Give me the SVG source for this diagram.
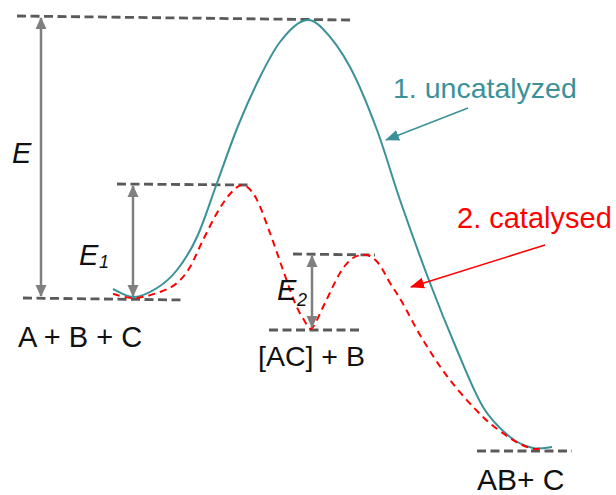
<svg xmlns="http://www.w3.org/2000/svg" width="616" height="495" viewBox="0 0 616 495">
<style>
.lvl{stroke:#5a5a5a;stroke-width:2.8;stroke-dasharray:9 4.5;fill:none}
.dim{stroke:#808080;stroke-width:2.5;fill:none;marker-start:url(#gh);marker-end:url(#gh)}
.lbl{font-family:"Liberation Sans",Arial,sans-serif;font-size:29px;fill:#111}
.sym{font-family:"Liberation Sans",Arial,sans-serif;font-style:italic;fill:#111}
.teal{stroke:#3a9198;stroke-width:2;fill:none}
.red{stroke:#ff0000;stroke-width:2;stroke-dasharray:7 5;fill:none}
</style>
<defs>
<marker id="gh" viewBox="0 0 12 12" refX="11" refY="6" markerWidth="12" markerHeight="12" markerUnits="userSpaceOnUse" orient="auto-start-reverse"><path d="M0,0.5 L12,6 L0,11.5 Z" fill="#808080"/></marker>
<marker id="th" viewBox="0 0 14 12" refX="13" refY="6" markerWidth="14" markerHeight="12" markerUnits="userSpaceOnUse" orient="auto"><path d="M0,0.5 L14,6 L0,11.5 Z" fill="#3a9198"/></marker>
<marker id="rh" viewBox="0 0 14 12" refX="13" refY="6" markerWidth="14" markerHeight="12" markerUnits="userSpaceOnUse" orient="auto"><path d="M0,0.5 L14,6 L0,11.5 Z" fill="#ff0000"/></marker>
</defs>
<g id="levels">
<line class="lvl" x1="17" y1="16" x2="350" y2="20"/>
<line class="lvl" x1="23" y1="298" x2="183" y2="300"/>
<line class="lvl" x1="117" y1="184" x2="248" y2="185"/>
<line class="lvl" x1="293" y1="254" x2="375" y2="255"/>
<line class="lvl" x1="269" y1="330" x2="363" y2="330"/>
<line class="lvl" x1="477" y1="451" x2="572" y2="451"/>
</g>
<g id="curve-uncatalyzed">
<path class="teal" d="M113,289 C116.5,290.3 126.7,297.2 134,297 C141.3,296.8 149.8,292.5 157,288 C164.2,283.5 170.3,278.5 177,270 C183.7,261.5 190.3,251.5 197,237 C203.7,222.5 210.2,201.5 217,183 C223.8,164.5 230.8,143.7 238,126 C245.2,108.3 253,91 260,77 C267,63 272.8,51.3 280,42 C287.2,32.7 296,23.3 303,21 C310,18.7 314.2,20.3 322,28 C329.8,35.7 340.8,50 350,67 C359.2,84 368.7,107.8 377,130 C385.3,152.2 391.2,174.5 400,200 C408.8,225.5 420.5,258 430,283 C439.5,308 448.2,329.3 457,350 C465.8,370.7 474.2,392.5 483,407 C491.8,421.5 501.7,430.2 510,437 C518.3,443.8 526,446.3 533,448 C540,449.7 548.8,447.2 552,447"/>
</g>
<g id="curve-catalysed">
<path class="red" d="M113,294 C116.7,294.7 127.2,298.3 135,298 C142.8,297.7 153,294.5 160,292 C167,289.5 172,287.2 177,283 C182,278.8 185.7,274.2 190,267 C194.3,259.8 198.5,249 203,240 C207.5,231 212.5,220.7 217,213 C221.5,205.3 225.7,198.7 230,194 C234.3,189.3 238.7,184.3 243,185 C247.3,185.7 251.5,190 256,198 C260.5,206 265.5,221 270,233 C274.5,245 278.8,258.3 283,270 C287.2,281.7 291.5,294.7 295,303 C298.5,311.3 301.2,315.8 304,320 C306.8,324.2 308.5,330.8 312,328 C315.5,325.2 320.3,312.2 325,303 C329.7,293.8 335.3,280.5 340,273 C344.7,265.5 348.5,261 353,258 C357.5,255 362.7,254 367,255 C371.3,256 375.2,259.3 379,264 C382.8,268.7 386.2,276.7 390,283 C393.8,289.3 396.5,292.5 402,302 C407.5,311.5 415,327 423,340 C431,353 440,367.2 450,380 C460,392.8 473,407.3 483,417 C493,426.7 502.2,432.8 510,438 C517.8,443.2 524.2,446.3 530,448 C535.8,449.7 538,448.5 542,448.5"/>
</g>
<g id="connectors">
<line class="dim" x1="41" y1="18" x2="41" y2="296"/>
<line class="dim" x1="133" y1="186" x2="133" y2="296"/>
<line class="dim" x1="312" y1="256" x2="312" y2="327"/>
<line x1="468" y1="108" x2="386" y2="140" stroke="#3a9198" stroke-width="1.5" marker-end="url(#th)"/>
<line x1="545" y1="245" x2="411" y2="287" stroke="#ff0000" stroke-width="1.5" marker-end="url(#rh)"/>
</g>
<g id="label-E"><text class="sym" x="12" y="163" font-size="29">E</text></g>
<g id="label-E1"><text class="sym" x="79" y="265" font-size="29">E<tspan x="99" y="268" font-size="18">1</tspan></text></g>
<g id="label-E2"><text class="sym" x="277" y="300" font-size="29">E<tspan x="297" y="306" font-size="18">2</tspan></text></g>
<g id="label-ABC"><text class="lbl" x="18" y="347" font-size="29.3">A + B + C</text></g>
<g id="label-ACB"><text class="lbl" x="258" y="366" style="font-size:28.5px">[AC] + B</text></g>
<g id="label-ABC2"><text class="lbl" x="477" y="490" style="font-size:30px">AB+ C</text></g>
<g id="label-uncat"><text class="lbl" x="393" y="98" style="fill:#3a9198;font-size:28.5px">1. uncatalyzed</text></g>
<g id="label-cat"><text class="lbl" x="457" y="228" style="fill:#ff0000">2. catalysed</text></g>
</svg>
